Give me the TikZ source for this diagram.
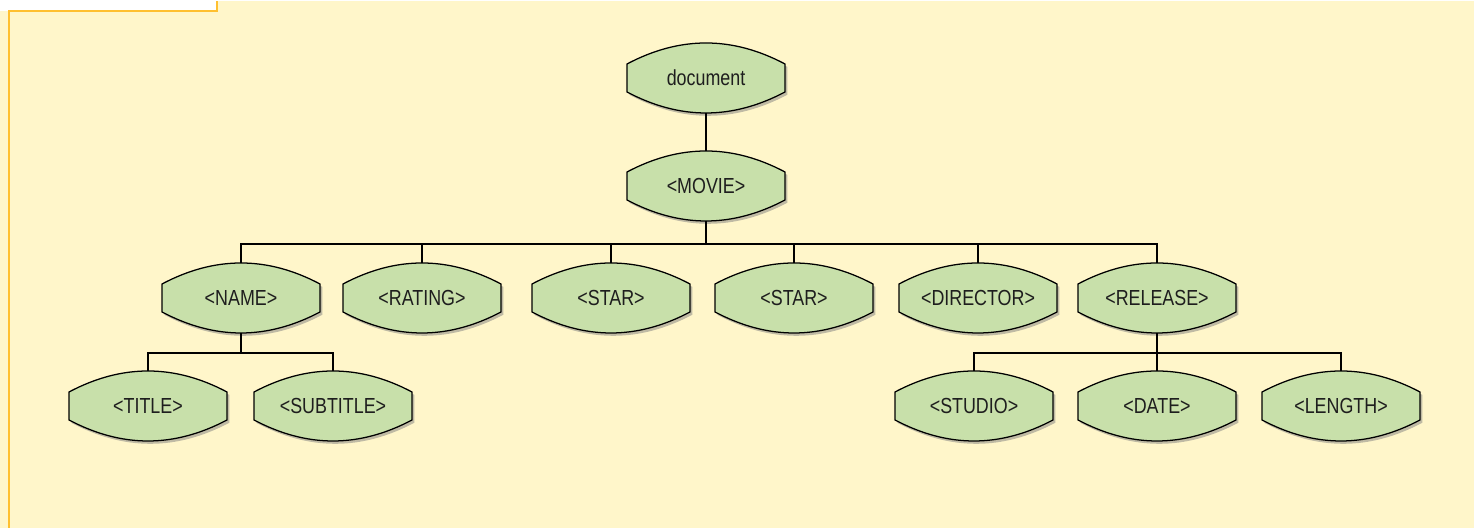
\documentclass[tikz,border=0pt]{standalone}
\usepackage{fontspec}
\setmainfont{Liberation Sans}[FakeStretch=0.82]
\usetikzlibrary{shadows}

\definecolor{paper}{RGB}{255,246,202}
\definecolor{frameline}{RGB}{255,192,48}
\definecolor{lensgreen}{RGB}{200,224,170}
\definecolor{inkgray}{RGB}{30,30,30}

\tikzset{
  lens/.style={draw=black, line width=0.9pt, fill=lensgreen,
    drop shadow={shadow xshift=1.6pt, shadow yshift=-2pt, opacity=0.5}},
  lenstext/.style={inner sep=0pt, minimum width=3.95cm, minimum height=1.75cm,
    text=inkgray, font=\fontsize{15.5}{18}\selectfont},
  link/.style={draw=black, line width=0.8pt}
}

% lens shaped tag: name, position, text
\newcommand{\lensnode}[3]{%
  \begin{scope}[shift={(#2)}]
    \draw[lens] (-79,-14) .. controls (-26,-42) and (26,-42) .. (79,-14) -- (79,14)
      .. controls (26,42) and (-26,42) .. (-79,14) -- cycle;
  \end{scope}
  \node[lenstext] (#1) at (#2) {#3};
}

\begin{document}
\begin{tikzpicture}[x=0.025cm, y=-0.025cm]
        % Panel
        \fill[paper] (0,0) rectangle (1474,527);
        \fill[white] (0,0) rectangle (217,10);
        \draw[frameline, line width=1.4pt] (9,527) -- (9,10) -- (217,10) -- (217,0);
        \useasboundingbox (0,0) rectangle (1474,527);

        % Root and movie
        \lensnode{doc}{706,77}{document}
        \lensnode{movie}{706,185}{<MOVIE>}

        % Children of movie
        \lensnode{name}{241,297}{<NAME>}
        \lensnode{rating}{422,297}{<RATING>}
        \lensnode{star1}{611,297}{<STAR>}
        \lensnode{star2}{794,297}{<STAR>}
        \lensnode{director}{978,297}{<DIRECTOR>}
        \lensnode{release}{1157,297}{<RELEASE>}

        % Children of name and release
        \lensnode{title}{148,405}{<TITLE>}
        \lensnode{subtitle}{333,405}{<SUBTITLE>}
        \lensnode{studio}{974,405}{<STUDIO>}
        \lensnode{date}{1157,405}{<DATE>}
        \lensnode{length}{1341,405}{<LENGTH>}

        % Connectors
        \coordinate (busm) at (706,243);
        \coordinate (busn) at (241,352);
        \coordinate (busr) at (1157,352);
        \draw[link] (doc.south) -- (movie.north);
        \draw[link] (movie.south) -- (busm);
        \foreach \n in {name,rating,star1,star2,director,release}
          \draw[link] (busm) -| (\n.north);
        \draw[link] (name.south) -- (busn);
        \foreach \n in {title,subtitle}
          \draw[link] (busn) -| (\n.north);
        \draw[link] (release.south) -- (busr);
        \foreach \n in {studio,date,length}
          \draw[link] (busr) -| (\n.north);
\end{tikzpicture}
\end{document}
